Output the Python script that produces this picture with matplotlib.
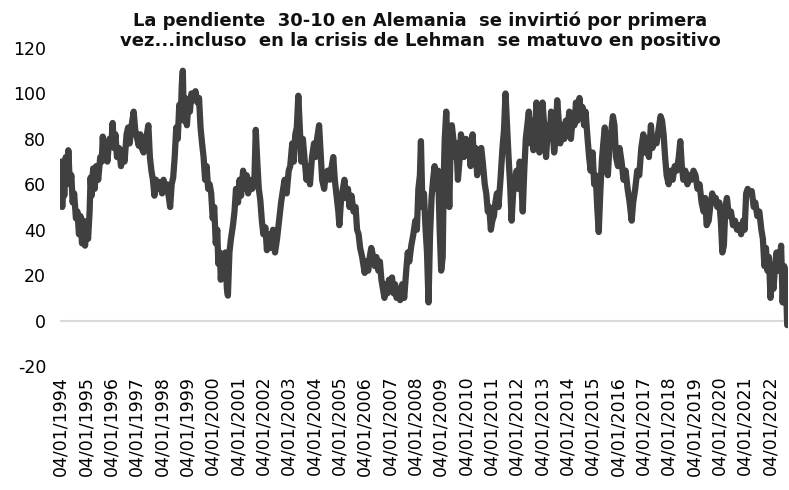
import matplotlib
matplotlib.use('Agg')
import matplotlib.pyplot as plt
import numpy as np

# pendiente 30-10 Alemania (pb): (año decimal, valor)
years = [
    1994.00, 1994.03, 1994.06, 1994.10, 1994.14, 1994.20, 1994.26, 1994.30, 1994.36, 1994.42,
    1994.47, 1994.53, 1994.60, 1994.66, 1994.72, 1994.78, 1994.84, 1994.90, 1994.96, 1995.02,
    1995.08, 1995.14, 1995.18, 1995.22, 1995.28, 1995.34, 1995.40, 1995.48, 1995.56, 1995.62,
    1995.66, 1995.72, 1995.78, 1995.84, 1995.92, 1996.00, 1996.05, 1996.10, 1996.16, 1996.22,
    1996.30, 1996.38, 1996.44, 1996.52, 1996.60, 1996.66, 1996.72, 1996.80, 1996.88, 1996.94,
    1997.02, 1997.08, 1997.14, 1997.20, 1997.27, 1997.33, 1997.40, 1997.46, 1997.52, 1997.58,
    1997.64, 1997.70, 1997.76, 1997.84, 1997.92, 1998.00, 1998.06, 1998.12, 1998.20, 1998.26,
    1998.32, 1998.38, 1998.44, 1998.50, 1998.56, 1998.62, 1998.68, 1998.74, 1998.78, 1998.82,
    1998.86, 1998.92, 1998.98, 1999.04, 1999.10, 1999.16, 1999.24, 1999.32, 1999.40, 1999.46,
    1999.52, 1999.58, 1999.64, 1999.70, 1999.76, 1999.82, 1999.88, 1999.94, 2000.00, 2000.06,
    2000.12, 2000.18, 2000.22, 2000.28, 2000.32, 2000.38, 2000.44, 2000.50, 2000.56, 2000.60,
    2000.66, 2000.72, 2000.80, 2000.86, 2000.92, 2001.00, 2001.06, 2001.12, 2001.20, 2001.26,
    2001.34, 2001.40, 2001.48, 2001.56, 2001.64, 2001.70, 2001.76, 2001.82, 2001.88, 2001.94,
    2002.00, 2002.08, 2002.14, 2002.22, 2002.30, 2002.38, 2002.46, 2002.54, 2002.62, 2002.70,
    2002.78, 2002.84, 2002.92, 2003.00, 2003.06, 2003.14, 2003.20, 2003.26, 2003.32, 2003.38,
    2003.44, 2003.50, 2003.56, 2003.62, 2003.70, 2003.76, 2003.84, 2003.92, 2004.00, 2004.06,
    2004.12, 2004.20, 2004.26, 2004.32, 2004.40, 2004.46, 2004.54, 2004.62, 2004.70, 2004.76,
    2004.82, 2004.90, 2004.96, 2005.00, 2005.06, 2005.14, 2005.20, 2005.26, 2005.34, 2005.40,
    2005.48, 2005.56, 2005.64, 2005.70, 2005.76, 2005.82, 2005.90, 2006.00, 2006.06, 2006.14,
    2006.20, 2006.26, 2006.32, 2006.40, 2006.46, 2006.54, 2006.60, 2006.66, 2006.72, 2006.78,
    2006.84, 2006.90, 2006.96, 2007.02, 2007.08, 2007.14, 2007.20, 2007.26, 2007.34, 2007.40,
    2007.48, 2007.56, 2007.64, 2007.70, 2007.76, 2007.84, 2007.92, 2008.00, 2008.06, 2008.12,
    2008.18, 2008.22, 2008.28, 2008.34, 2008.40, 2008.46, 2008.52, 2008.58, 2008.64, 2008.70,
    2008.76, 2008.82, 2008.90, 2008.96, 2009.02, 2009.08, 2009.12, 2009.16, 2009.22, 2009.28,
    2009.34, 2009.38, 2009.44, 2009.50, 2009.56, 2009.62, 2009.68, 2009.74, 2009.80, 2009.86,
    2009.92, 2010.00, 2010.06, 2010.12, 2010.18, 2010.26, 2010.32, 2010.38, 2010.44, 2010.52,
    2010.60, 2010.66, 2010.74, 2010.80, 2010.86, 2010.92, 2010.98, 2011.04, 2011.10, 2011.16,
    2011.22, 2011.28, 2011.36, 2011.44, 2011.50, 2011.56, 2011.62, 2011.68, 2011.74, 2011.80,
    2011.86, 2011.92, 2012.00, 2012.06, 2012.12, 2012.18, 2012.24, 2012.30, 2012.36, 2012.42,
    2012.48, 2012.54, 2012.60, 2012.66, 2012.72, 2012.78, 2012.84, 2012.90, 2012.96, 2013.02,
    2013.10, 2013.16, 2013.24, 2013.30, 2013.36, 2013.42, 2013.48, 2013.54, 2013.60, 2013.66,
    2013.72, 2013.80, 2013.88, 2013.94, 2014.00, 2014.08, 2014.14, 2014.22, 2014.28, 2014.34,
    2014.40, 2014.48, 2014.54, 2014.60, 2014.66, 2014.72, 2014.80, 2014.86, 2014.92, 2015.00,
    2015.06, 2015.12, 2015.18, 2015.24, 2015.30, 2015.36, 2015.42, 2015.48, 2015.54, 2015.60,
    2015.66, 2015.72, 2015.80, 2015.86, 2015.92, 2016.00, 2016.06, 2016.14, 2016.22, 2016.30,
    2016.38, 2016.46, 2016.54, 2016.60, 2016.68, 2016.76, 2016.84, 2016.92, 2017.00, 2017.06,
    2017.14, 2017.22, 2017.30, 2017.36, 2017.44, 2017.52, 2017.60, 2017.68, 2017.74, 2017.80,
    2017.86, 2017.92, 2018.00, 2018.08, 2018.16, 2018.24, 2018.32, 2018.40, 2018.46, 2018.52,
    2018.58, 2018.66, 2018.74, 2018.82, 2018.90, 2018.98, 2019.06, 2019.14, 2019.22, 2019.30,
    2019.38, 2019.44, 2019.50, 2019.58, 2019.64, 2019.72, 2019.80, 2019.86, 2019.92, 2020.00,
    2020.06, 2020.12, 2020.18, 2020.24, 2020.30, 2020.38, 2020.46, 2020.54, 2020.62, 2020.70,
    2020.78, 2020.86, 2020.94, 2021.00, 2021.06, 2021.12, 2021.20, 2021.28, 2021.36, 2021.42,
    2021.50, 2021.58, 2021.66, 2021.72, 2021.78, 2021.84, 2021.90, 2021.96, 2022.02, 2022.08,
    2022.14, 2022.20, 2022.26, 2022.32, 2022.38, 2022.44, 2022.50, 2022.56, 2022.62, 2022.68,
]
spread = [
    62, 70, 50, 66, 55, 72, 62, 75, 60, 64,
    52, 56, 45, 48, 38, 46, 34, 44, 33, 42,
    36, 48, 63, 55, 67, 58, 68, 62, 72, 70,
    81, 72, 78, 70, 80, 78, 87, 76, 82, 72,
    76, 68, 75, 70, 82, 85, 78, 86, 92, 84,
    80, 77, 82, 76, 74, 80, 82, 86, 72, 66,
    62, 55, 62, 58, 61, 56, 62, 57, 60, 55,
    50, 60, 63, 72, 85, 80, 95, 90, 104, 110,
    88, 98, 86, 95, 92, 100, 97, 101, 96, 98,
    85, 78, 72, 62, 68, 58, 60, 56, 45, 50,
    34, 40, 25, 30, 18, 28, 24, 30, 14, 11,
    30, 36, 42, 48, 58, 52, 62, 55, 66, 58,
    64, 56, 62, 58, 60, 84, 70, 58, 53, 44,
    38, 41, 31, 38, 32, 40, 30, 36, 44, 52,
    58, 62, 56, 66, 68, 78, 70, 82, 85, 99,
    84, 70, 80, 72, 62, 68, 60, 72, 78, 72,
    80, 86, 74, 62, 58, 64, 66, 62, 68, 72,
    62, 54, 48, 42, 52, 58, 62, 54, 58, 50,
    55, 48, 50, 40, 38, 32, 28, 21, 26, 22,
    28, 32, 29, 24, 28, 22, 26, 18, 14, 10,
    16, 12, 18, 13, 19, 12, 16, 10, 14, 9,
    16, 10, 22, 30, 26, 33, 38, 44, 40, 58,
    64, 79, 50, 56, 41, 30, 8, 38, 54, 62,
    68, 58, 66, 40, 22, 28, 62, 80, 92, 74,
    50, 70, 86, 80, 72, 78, 62, 70, 82, 78,
    72, 80, 74, 78, 68, 82, 70, 76, 64, 72,
    76, 70, 60, 56, 48, 50, 40, 44, 46, 52,
    56, 50, 62, 76, 84, 100, 86, 72, 60, 44,
    56, 62, 66, 58, 70, 62, 48, 66, 80, 86,
    92, 78, 88, 75, 82, 96, 84, 74, 82, 96,
    84, 72, 86, 80, 92, 84, 74, 80, 97, 88,
    78, 86, 80, 88, 84, 92, 80, 90, 86, 96,
    88, 98, 90, 94, 86, 92, 80, 72, 66, 74,
    60, 64, 50, 39, 56, 70, 78, 85, 70, 64,
    76, 82, 90, 86, 72, 68, 76, 70, 62, 66,
    58, 52, 44, 52, 58, 66, 64, 76, 82, 74,
    80, 72, 86, 76, 80, 78, 84, 90, 88, 82,
    72, 64, 60, 66, 62, 68, 66, 72, 79, 68,
    62, 66, 60, 64, 62, 66, 64, 58, 60, 52,
    48, 54, 42, 44, 50, 56, 52, 54, 50, 52,
    44, 30, 33, 50, 54, 46, 48, 42, 44, 40,
    42, 38, 44, 40, 56, 58, 56, 57, 50, 52,
    46, 48, 40, 36, 24, 32, 22, 28, 10, 20,
    14, 24, 30, 22, 26, 33, 8, 24, 20, -2,
]
tick_years = list(range(1994, 2023))
tick_labels = ['04/01/%d' % y for y in tick_years]
title = ('La pendiente  30-10 en Alemania  se invirtió por primera\n'
         'vez...incluso  en la crisis de Lehman  se matuvo en positivo')


def plot_slope():
    plt.rcParams['font.family'] = ['DejaVu Sans']
    plt.rcParams['axes.unicode_minus'] = False
    fig = plt.figure(figsize=(7.89, 4.90), dpi=100)
    ax = fig.add_axes([0.076, 0.253, 0.923, 0.649])

    ax.axhline(0, color='#d9d9d9', linewidth=1.5, zorder=1)
    ax.plot(years, spread, color='#404040', linewidth=4.5,
            solid_joinstyle='round', solid_capstyle='round', zorder=2)

    ax.set_xlim(1993.97, 2022.72)
    ax.set_ylim(-20, 120)
    ax.set_yticks(np.arange(-20, 121, 20))
    ax.set_xticks(tick_years)
    ax.set_xticklabels(tick_labels, rotation=90, va='top', ha='center')
    ax.tick_params(axis='both', length=0, labelsize=12.5, colors='#000000')
    ax.tick_params(axis='y', pad=10)
    ax.tick_params(axis='x', pad=7)
    for side in ax.spines.values():
        side.set_visible(False)

    fig.text(0.533, 0.976, title, ha='center', va='top', fontsize=13,
             fontweight='bold', linespacing=1.1, color='#111111')
    fig.savefig('out.png', dpi=100)


if __name__ == '__main__':
    plot_slope()
